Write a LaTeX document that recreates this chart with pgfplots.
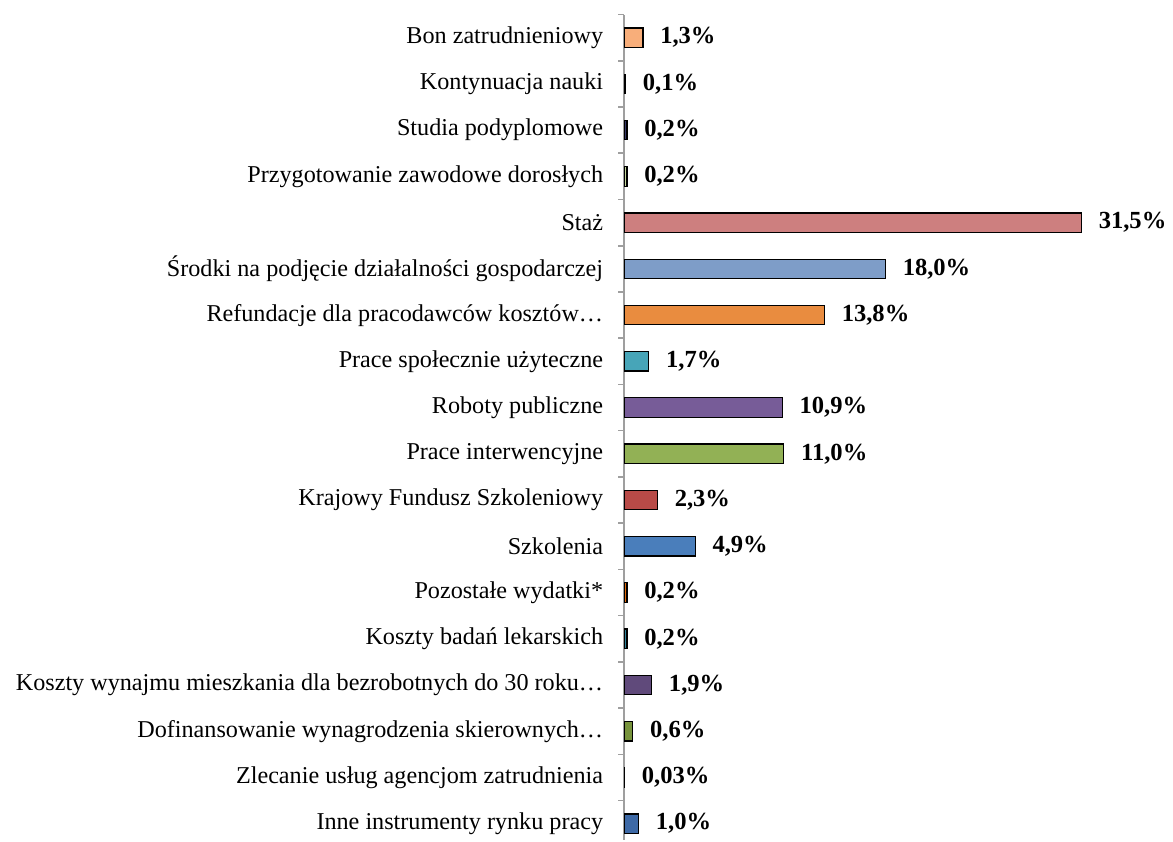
\documentclass[border=0pt]{standalone}
\usepackage{pgfplots}
\pgfplotsset{compat=1.18}
\usepackage{fontspec}
\setmainfont{Liberation Serif}
\definecolor{c0}{HTML}{3D69A6}
\definecolor{c1}{HTML}{A6A6A6}
\definecolor{c2}{HTML}{77933C}
\definecolor{c3}{HTML}{604A7B}
\definecolor{c4}{HTML}{31859C}
\definecolor{c5}{HTML}{E46C0A}
\definecolor{c6}{HTML}{4A7EBB}
\definecolor{c7}{HTML}{B84A47}
\definecolor{c8}{HTML}{92B155}
\definecolor{c9}{HTML}{775C98}
\definecolor{c10}{HTML}{47A5B8}
\definecolor{c11}{HTML}{E98C3F}
\definecolor{c12}{HTML}{7E9DC8}
\definecolor{c13}{HTML}{CD7F7F}
\definecolor{c14}{HTML}{C3D69B}
\definecolor{c15}{HTML}{3B3B6B}
\definecolor{c16}{HTML}{8C8C8C}
\definecolor{c17}{HTML}{F8AE7A}
\begin{document}
\begin{tikzpicture}
\begin{axis}[
  at={(0,0)}, anchor=south west,
  scale only axis, width=229pt, height=413.2pt,
  xbar, bar shift=0pt, bar width=0.42,
  xmin=0, xmax=31.5, ymin=-0.35, ymax=17.5,
  axis x line=none, axis y line*=left,
  y axis line style={draw=gray!75, line width=0.8pt},
  ytick={0,...,17},
  yticklabels={Inne instrumenty rynku pracy,
    Zlecanie usług agencjom zatrudnienia,
    Dofinansowanie wynagrodzenia skierownych…,
    Koszty wynajmu mieszkania dla bezrobotnych do 30 roku…,
    Koszty badań lekarskich,
    Pozostałe wydatki*,
    Szkolenia,
    Krajowy Fundusz Szkoleniowy,
    Prace interwencyjne,
    Roboty publiczne,
    Prace społecznie użyteczne,
    Refundacje dla pracodawców kosztów…,
    Środki na podjęcie działalności gospodarczej,
    Staż,
    Przygotowanie zawodowe dorosłych,
    Studia podyplomowe,
    Kontynuacja nauki,
    Bon zatrudnieniowy},
  major tick length=0pt,
  minor ytick={-0.5,0.5,...,17.5},
  minor tick length=3pt, tick align=outside,
  minor tick style={draw=gray!75, line width=0.8pt},
  yticklabel style={font=\fontsize{12.1}{14}\selectfont, xshift=-7pt},
  clip=false,
  point meta=explicit symbolic,
  nodes near coords,
  every node near coord/.style={font=\fontsize{12.3}{14}\selectfont\bfseries, anchor=west, xshift=5pt, text=black},
  every axis plot/.append style={draw=black, line width=0.6pt},
]
\addplot[fill=c0] coordinates {(1.0,0) [1,0\%]};
\addplot[fill=c1] coordinates {(0.03,1) [0,03\%]};
\addplot[fill=c2] coordinates {(0.6,2) [0,6\%]};
\addplot[fill=c3] coordinates {(1.9,3) [1,9\%]};
\addplot[fill=c4] coordinates {(0.2,4) [0,2\%]};
\addplot[fill=c5] coordinates {(0.2,5) [0,2\%]};
\addplot[fill=c6] coordinates {(4.9,6) [4,9\%]};
\addplot[fill=c7] coordinates {(2.3,7) [2,3\%]};
\addplot[fill=c8] coordinates {(11.0,8) [11,0\%]};
\addplot[fill=c9] coordinates {(10.9,9) [10,9\%]};
\addplot[fill=c10] coordinates {(1.7,10) [1,7\%]};
\addplot[fill=c11] coordinates {(13.8,11) [13,8\%]};
\addplot[fill=c12] coordinates {(18.0,12) [18,0\%]};
\addplot[fill=c13] coordinates {(31.5,13) [31,5\%]};
\addplot[fill=c14] coordinates {(0.2,14) [0,2\%]};
\addplot[fill=c15] coordinates {(0.2,15) [0,2\%]};
\addplot[fill=c16] coordinates {(0.1,16) [0,1\%]};
\addplot[fill=c17] coordinates {(1.3,17) [1,3\%]};
\end{axis}
\path (-312.5pt,0) rectangle (274pt,420.5pt);
\end{tikzpicture}
\end{document}
